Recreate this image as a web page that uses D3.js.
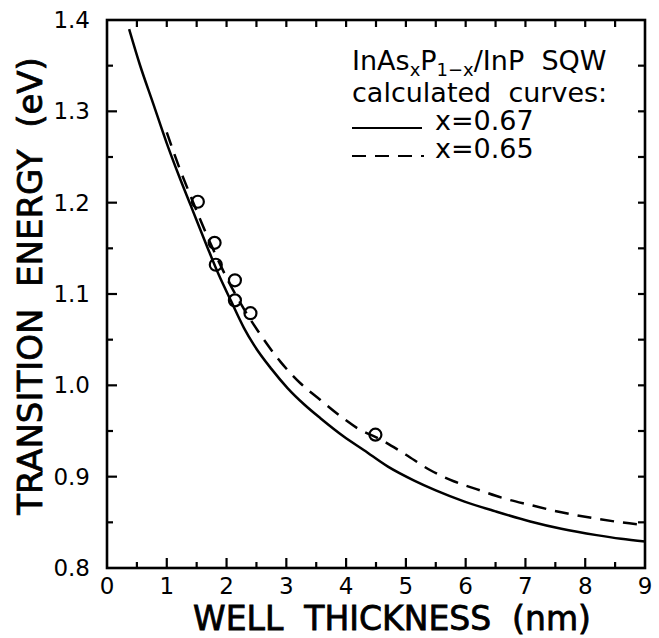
<!DOCTYPE html>
<meta charset="utf-8">
<script src="https://d3js.org/d3.v7.min.js"></script>
<style>
  body { margin: 0; background: #fff; }
  text { font-family: "DejaVu Sans", sans-serif; fill: #000; }
</style>
<body>
<div id="chart"></div>
<script>

// curve x=0.67 (solid)
var solidX = [0.37, 0.55, 0.77, 1.0, 1.2, 1.4, 1.68, 1.87, 2.07, 2.29, 2.46, 2.75, 3.02, 3.3, 3.57, 3.96, 4.3, 4.7, 5.13, 5.5, 5.97, 6.5, 7.08, 7.6, 8.19, 8.6, 9.0]
var solidE = [1.390, 1.351, 1.309, 1.265, 1.230, 1.197, 1.151, 1.121, 1.093, 1.063, 1.044, 1.018, 0.997, 0.979, 0.964, 0.944, 0.929, 0.911, 0.896, 0.885, 0.873, 0.862, 0.851, 0.843, 0.836, 0.832, 0.829]

// curve x=0.65 (dashed)
var dashX = [1.0, 1.2, 1.4, 1.7, 2.0, 2.25, 2.52, 2.9, 3.24, 3.57, 3.91, 4.19, 4.57, 5.0, 5.41, 5.8, 6.24, 6.6, 7.08, 7.6, 8.19, 8.6, 9.0]
var dashE = [1.277, 1.240, 1.207, 1.160, 1.118, 1.088, 1.060, 1.026, 1.002, 0.984, 0.966, 0.953, 0.941, 0.924, 0.907, 0.895, 0.885, 0.877, 0.869, 0.861, 0.854, 0.850, 0.847]

// measured points (open circles)
var ptX = [1.52, 1.80, 1.82, 2.14, 2.14, 2.40, 4.49]
var ptE = [1.201, 1.156, 1.132, 1.115, 1.093, 1.079, 0.946]

var xTicks = [0, 1, 2, 3, 4, 5, 6, 7, 8, 9]
var yTicks = [0.8, 0.9, 1.0, 1.1, 1.2, 1.3, 1.4]

var width = 659, height = 638
var pLeft = 107, pRight = 645, pTop = 20, pBottom = 568

var svg = d3.select("#chart").append("svg")
  .attr("width", width)
  .attr("height", height)

var x = d3.scaleLinear().domain([0, 9]).range([pLeft, pRight])
var y = d3.scaleLinear().domain([0.8, 1.4]).range([pBottom, pTop])

// ticks (all pointing inward)
var ink = svg.append("g").attr("stroke", "#000").attr("stroke-width", 2.2)

d3.range(0.5, 9, 0.5).forEach(function(v) {
  var major = Math.abs(v - Math.round(v)) < 1e-6
  ink.append("line").attr("x1", x(v)).attr("x2", x(v))
    .attr("y1", pBottom).attr("y2", pBottom - (major ? 10 : 6))
  ink.append("line").attr("x1", x(v)).attr("x2", x(v))
    .attr("y1", pTop).attr("y2", pTop + 7)
})
d3.range(0.85, 1.4, 0.05).forEach(function(v) {
  var major = Math.abs(v * 10 - Math.round(v * 10)) < 1e-6
  ink.append("line").attr("y1", y(v)).attr("y2", y(v))
    .attr("x1", pLeft).attr("x2", pLeft + (major ? 10 : 6))
  ink.append("line").attr("y1", y(v)).attr("y2", y(v))
    .attr("x1", pRight).attr("x2", pRight - 7)
})

// frame
svg.append("rect")
  .attr("x", pLeft).attr("y", pTop)
  .attr("width", pRight - pLeft).attr("height", pBottom - pTop)
  .attr("fill", "none").attr("stroke", "#000").attr("stroke-width", 2.6)

// tick labels
svg.selectAll(".xl").data(xTicks).enter().append("text")
  .attr("x", function(d) { return x(d) })
  .attr("y", 594)
  .attr("text-anchor", "middle")
  .style("font-size", "23px")
  .text(function(d) { return d })

svg.selectAll(".yl").data(yTicks).enter().append("text")
  .attr("x", 90)
  .attr("y", function(d) { return y(d) + 8 })
  .attr("text-anchor", "end")
  .style("font-size", "23px")
  .text(function(d) { return d.toFixed(1) })

// axis titles
svg.append("text")
  .attr("x", 392).attr("y", 630)
  .attr("text-anchor", "middle")
  .style("font-size", "33px")
  .attr("stroke", "#000").attr("stroke-width", 0.8)
  .style("white-space", "pre")
  .text("WELL  THICKNESS  (nm)")

svg.append("text")
  .attr("transform", "translate(42,286) rotate(-90)")
  .attr("text-anchor", "middle")
  .style("font-size", "34px")
  .attr("stroke", "#000").attr("stroke-width", 0.8)
  .style("white-space", "pre")
  .text("TRANSITION  ENERGY  (eV)")

// curves
var line = d3.line()
  .x(function(d) { return x(d[0]) })
  .y(function(d) { return y(d[1]) })
  .curve(d3.curveMonotoneX)

svg.append("path")
  .datum(d3.zip(solidX, solidE))
  .attr("d", line)
  .attr("fill", "none").attr("stroke", "#000").attr("stroke-width", 2.5)

svg.append("path")
  .datum(d3.zip(dashX, dashE))
  .attr("d", line)
  .attr("fill", "none").attr("stroke", "#000").attr("stroke-width", 2.5)
  .attr("stroke-dasharray", "14,9")

// data points
svg.selectAll(".pt").data(d3.zip(ptX, ptE)).enter().append("circle")
  .attr("cx", function(d) { return x(d[0]) })
  .attr("cy", function(d) { return y(d[1]) })
  .attr("r", 6)
  .attr("fill", "none").attr("stroke", "#000").attr("stroke-width", 2.2)

// legend
var lg = svg.append("g").style("font-size", "27px")
var t1 = lg.append("text").attr("x", 352).attr("y", 70).style("white-space", "pre")
t1.append("tspan").text("InAs")
t1.append("tspan").attr("dy", 6).style("font-size", "18px").text("x")
t1.append("tspan").attr("dy", -6).text("P")
t1.append("tspan").attr("dy", 6).style("font-size", "18px").text("1\u2212x")
t1.append("tspan").attr("dy", -6).text("/InP  SQW")

lg.append("text").attr("x", 352).attr("y", 102).style("white-space", "pre").text("calculated  curves:")
lg.append("text").attr("x", 435).attr("y", 130).text("x=0.67")
lg.append("text").attr("x", 435).attr("y", 158).text("x=0.65")

lg.append("line").attr("x1", 352).attr("x2", 422).attr("y1", 128).attr("y2", 128)
  .attr("stroke", "#000").attr("stroke-width", 2.2)
lg.append("line").attr("x1", 352).attr("x2", 424).attr("y1", 156).attr("y2", 156)
  .attr("stroke", "#000").attr("stroke-width", 2.2).attr("stroke-dasharray", "14,9")

</script>
</body>
